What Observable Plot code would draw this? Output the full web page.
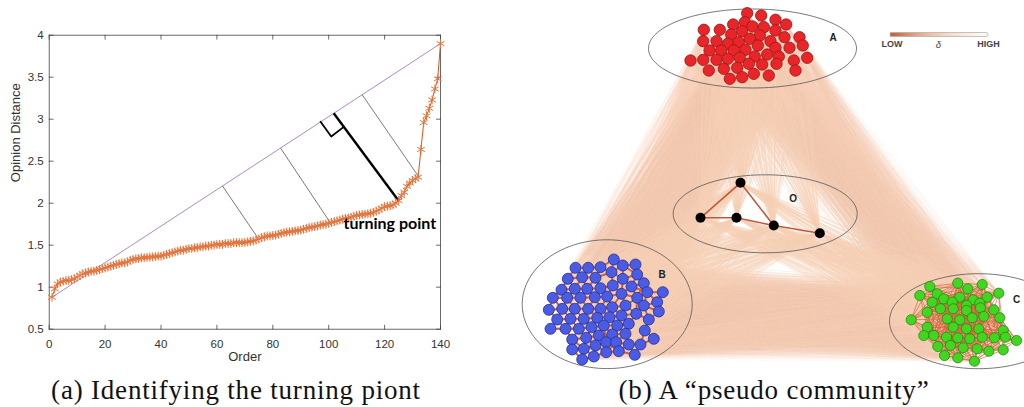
<!DOCTYPE html>
<html><head><meta charset="utf-8">
<script src="https://cdn.jsdelivr.net/npm/d3@7"></script>
<script src="https://cdn.jsdelivr.net/npm/@observablehq/plot@0.6"></script>
<style>
html,body{margin:0;padding:0;background:#fff;width:1024px;height:407px;overflow:hidden;}
#left{position:absolute;left:0;top:0;}
#right{position:absolute;left:512px;top:0;}
.cap{position:absolute;top:377px;font-family:"Liberation Serif",serif;font-size:27px;line-height:27px;letter-spacing:0.8px;white-space:nowrap;color:#111;transform:translateX(-50%);}
</style></head><body>
<div id="left"></div><div id="right"></div>
<div class="cap" style="left:236px">(a) Identifying the turning piont</div>
<div class="cap" style="left:774px">(b) A “pseudo community”</div>
<script>
// ---------- Panel (a) data ----------
const order = d3.range(1, 141);
const opinionDistance = [
0.88,0.98,1.04,1.06,1.07,1.08,1.08,1.09,1.10,1.12,
1.14,1.16,1.17,1.18,1.19,1.19,1.20,1.21,1.22,1.23,
1.24,1.25,1.26,1.27,1.28,1.29,1.29,1.30,1.32,1.33,
1.34,1.34,1.35,1.35,1.355,1.36,1.36,1.365,1.37,1.37,
1.38,1.39,1.40,1.41,1.42,1.43,1.44,1.44,1.45,1.46,
1.46,1.47,1.47,1.48,1.48,1.49,1.49,1.50,1.50,1.51,
1.51,1.51,1.52,1.52,1.52,1.53,1.53,1.53,1.53,1.535,
1.54,1.545,1.55,1.56,1.575,1.59,1.60,1.61,1.61,1.615,
1.62,1.63,1.64,1.65,1.655,1.66,1.665,1.67,1.675,1.68,
1.69,1.70,1.71,1.715,1.72,1.73,1.74,1.745,1.75,1.76,
1.77,1.78,1.79,1.80,1.81,1.82,1.825,1.83,1.845,1.855,
1.86,1.865,1.87,1.875,1.88,1.89,1.905,1.92,1.94,1.96,
1.965,1.97,1.98,2.00,2.03,2.09,2.13,2.20,2.24,2.27,
2.29,2.31,2.64,2.96,3.04,3.13,3.23,3.36,3.48,3.90
];
const xTicks = [0,20,40,60,80,100,120,140];
const yTicks = [0.5,1,1.5,2,2.5,3,3.5,4];
const xDomain = [0,140];
const yDomain = [0.5,4];
const chord = [{x:1,y:0.88},{x:140,y:3.90}];
const perpThin = [
  {x1:62,y1:2.205,x2:75,y2:1.57},
  {x1:82.8,y1:2.655,x2:100.6,y2:1.766},
  {x1:112,y1:3.29,x2:132.2,y2:2.315}
];
const perpThick = [{x1:101.8,y1:3.07,x2:125,y2:2.03}];
const rightAngle = [{x:97.1,y:2.97},{x:100.9,y:2.794},{x:105.4,y:2.909}];
const turningLabel = [{x:105.3,y:1.757,text:"turning point"}];

// ---------- Panel (b) data (positions, panel pixel units) ----------
const nodesA = [
[234.7,12.7],[248.7,15],[263,19.3],[273.7,24],[220.7,24],[232.3,21.7],[240,26],[251.3,26.7],[263,30],
[191.3,29.3],[207.3,29.3],[218.7,34],[229.7,30.7],[247.3,35],[272,36.7],[287,36.7],
[190.7,40.7],[204,40.7],[215.3,43.3],[226.3,41.7],[237.3,38.3],[245.3,45],[258,40.7],[263,47.3],[277,47.3],[290.3,45],
[197,50],[208.7,50],[221.3,50],[233,49.3],[242.3,56],[254.7,54],[266.3,56],[281.3,60],[294.7,57.3],
[178,60],[190.7,59.3],[204,59.3],[215.3,58.3],[227.3,57.3],[236.3,63.3],[249.7,64],[264,63.3],
[196.3,70],[211.3,68.3],[224.7,67.3],[241.3,73.3],[256.3,75],[283,70],[217.3,78.3],[229.7,76.7]
];
const nodesB = [
[101.3,259],[110.3,265],[123,264],
[63,267.3],[75.7,267.3],[88,266.7],[99,271.7],
[55.3,278.3],[69.7,276.7],[83,277.3],[110.3,278.3],[124.7,274],
[49,289.3],[62.3,288.3],[74.7,288.3],[88,287.7],[100.3,285],[119,286],[131.3,282.7],
[40.3,297.3],[54.7,297.3],[68,297.3],[82.3,296.7],[94.7,296],[109,293.3],[124.7,297.3],[134.7,291.7],[150.3,291.7],
[36.3,309.3],[49.7,308.3],[62.3,308.3],[75.7,308.3],[88,308.3],[99.7,306.7],[113,305],[131.3,305],[144.7,301.7],
[44.7,319],[58,318.3],[71.3,318.3],[84.7,317.3],[97,316.7],[109,315],[123.7,313.3],[146.3,311],
[38,328.3],[53,328.3],[66.3,328.3],[79,326.7],[91.3,325],[104.7,325],[116.3,323.3],[136.3,319],
[59.7,339],[73.7,337.3],[86.3,335],[99.7,334],[113,333.3],[132.3,330],[141.3,338.3],
[59.7,349],[71.3,348.3],[83,345],[93.7,341.7],[103.7,341.7],[116.3,344],[128,344],
[69.7,359],[81.3,356],[93.7,351.7],[106.3,350.7],[122.3,354.3]
];
const nodesC = [
[417.3,286],[445.3,282.7],[455.3,288.3],[469.7,284],
[407.3,295],[424.7,293.3],[431.3,298.3],[447.3,296.7],[460.7,299.3],[474.7,296.7],[486.3,292.7],
[419.7,301.7],[439.7,301.7],[454,305],[467.3,302.7],
[414.7,311.7],[428,308.3],[440.7,308.3],[454,310],[468,307.3],[481.3,309.3],
[398.7,319.3],[434.7,318.3],[447.3,319.3],[459.7,317.3],[471.3,316],[487.3,317.3],
[414.7,326.7],[440.7,326.7],[454,328.3],[466.3,328.3],[490.7,330],
[411.3,335],[421.3,335],[434,336.7],[445.3,337.3],[457.3,338.3],[469.7,336.7],[482,337.3],[493,336.7],[504,340],
[425.3,346],[438,345],[450.7,347.3],[464.7,348.3],[476.3,350.7],[490.7,349.3],
[432,355],[445.3,357.3],[462,360.7]
];
const nodesO = [[228,182.3],[188,217.3],[224,217.3],[261.3,225],[307.3,232.7]];
const edgesO = [[1,0],[0,3],[1,2],[2,3],[3,4]];
const ellipses = [
  {name:"A",cx:240,cy:48,rx:104,ry:39.5},
  {name:"O",cx:252.7,cy:213.3,rx:92,ry:39},
  {name:"B",cx:94.7,cy:303.7,rx:85,ry:64.4},
  {name:"C",cx:466,cy:320.7,rx:89,ry:47.5}
];
const clusterLabels = [
  {text:"A",x:320.7,y:37.3},{text:"B",x:149.7,y:274.5},
  {text:"C",x:504,y:299.3},{text:"O",x:280.7,y:198.3}
];
const legendStops = ["#c0603f","#eeb898","#fbe3d4","#fffaf6"];
const legendBox = {x1:378,x2:476,y1:32.5,y2:36.5};
const legendLabels = [
  {text:"LOW",x:379.5,y:44,anchor:"start",style:"normal"},
  {text:"δ",x:426,y:44,anchor:"middle",style:"italic"},
  {text:"HIGH",x:476,y:44,anchor:"end",style:"normal"}
];
const colors = {
  A:{fill:"#e8262a",stroke:"#9c1414"},
  B:{fill:"#4a5be6",stroke:"#26308c"},
  C:{fill:"#3fd81e",stroke:"#2a8416"},
  O:{fill:"#000",stroke:"none"}
};

// ---------- Panel (a) ----------
const curve = order.map((o,i)=>({order:o, dist:opinionDistance[i]}));
const tickShape = {draw(ctx,l){ctx.moveTo(0,0);ctx.lineTo(0,-l);}};
const tickStyle = {length:4, anchor:"start", shape:tickShape, stroke:"#444", strokeWidth:0.8};
const left = Plot.plot({
  width:470, height:370, marginLeft:48.7, marginRight:30, marginTop:34.7, marginBottom:41.3,
  x:{domain:xDomain}, y:{domain:yDomain},
  style:{fontFamily:"'Liberation Sans', Arial, sans-serif", background:"transparent", color:"#333"},
  marks:[
    Plot.frame({stroke:"#444", strokeWidth:0.8}),
    Plot.vector(xTicks,{x:d=>d, y:yDomain[0], rotate:0, ...tickStyle}),
    Plot.vector(xTicks,{x:d=>d, y:yDomain[1], rotate:180, ...tickStyle}),
    Plot.vector(yTicks,{y:d=>d, x:xDomain[0], rotate:90, ...tickStyle}),
    Plot.vector(yTicks,{y:d=>d, x:xDomain[1], rotate:-90, ...tickStyle}),
    Plot.axisX(xTicks,{tickSize:0, tickPadding:10.5, fontSize:11.5, fill:"#333", label:null, tickFormat:d=>String(d)}),
    Plot.axisY(yTicks,{tickSize:0, tickPadding:5.5, fontSize:11.5, fill:"#333", label:null, tickFormat:d=>String(d)}),
    Plot.text(["Order"],{text:d=>d, frameAnchor:"bottom", dy:31.3, fontSize:13, fill:"#333"}),
    Plot.text(["Opinion Distance"],{text:d=>d, frameAnchor:"left", dx:-33, rotate:-90, fontSize:13, fill:"#333"}),
    Plot.line(chord,{x:"x", y:"y", stroke:"#9a6cb0", strokeWidth:0.8}),
    Plot.link(perpThin,{x1:"x1",y1:"y1",x2:"x2",y2:"y2", stroke:"#222", strokeWidth:0.6}),
    Plot.link(perpThick,{x1:"x1",y1:"y1",x2:"x2",y2:"y2", stroke:"#000", strokeWidth:2.4}),
    Plot.line(rightAngle,{x:"x", y:"y", stroke:"#000", strokeWidth:1.8}),
    Plot.line(curve,{x:"order", y:"dist", stroke:"#d95319", strokeWidth:1}),
    Plot.dot(curve,{x:"order", y:"dist", symbol:"asterisk", r:4.2, stroke:"#e6733a", strokeWidth:1}),
    Plot.text(turningLabel,{x:"x", y:"y", text:"text", textAnchor:"start", fontSize:16, fontWeight:"bold", fontFamily:"Lato, 'Open Sans', sans-serif", fill:"#000"})
  ]
});
document.getElementById("left").appendChild(left);

// ---------- Panel (b) ----------
const groups = {A:nodesA, B:nodesB, C:nodesC, O:nodesO};
const names = ["A","B","C"];
const crossEdges = [];
for (let g=0; g<names.length; g++) for (let h=g+1; h<names.length; h++)
  for (const p of groups[names[g]]) for (const q of groups[names[h]])
    crossEdges.push({x1:p[0],y1:p[1],x2:q[0],y2:q[1]});
const oEdges = [];
for (const p of nodesO) for (const n of names) for (const q of groups[n])
  oEdges.push({x1:p[0],y1:p[1],x2:q[0],y2:q[1]});
function nearEdges(nodes, maxD){
  const out=[];
  for (let i=0;i<nodes.length;i++) for (let j=i+1;j<nodes.length;j++){
    const d=Math.hypot(nodes[i][0]-nodes[j][0], nodes[i][1]-nodes[j][1]);
    if (d<maxD) out.push({x1:nodes[i][0],y1:nodes[i][1],x2:nodes[j][0],y2:nodes[j][1]});
  }
  return out;
}
const innerA = nearEdges(nodesA, 13);
const innerB = nearEdges(nodesB, 17);
const innerC = nearEdges(nodesC, 40);
const innerO = edgesO.map(([a,b])=>({x1:nodesO[a][0],y1:nodesO[a][1],x2:nodesO[b][0],y2:nodesO[b][1]}));
const ellipsePts = ellipses.flatMap(e => d3.range(0,120).map(k => {
  const t = k/120*2*Math.PI;
  return {name:e.name, x:e.cx+e.rx*Math.cos(t), y:e.cy+e.ry*Math.sin(t)};
}));
const ramp = d3.interpolateRgbBasis(legendStops);
const nCells = 49;
const legendCells = d3.range(nCells).map(i => ({
  x1: legendBox.x1 + (legendBox.x2-legendBox.x1)*i/nCells,
  x2: legendBox.x1 + (legendBox.x2-legendBox.x1)*(i+1)/nCells,
  fill: ramp(i/(nCells-1))
}));
const nodeMark = (name, r) => Plot.dot(groups[name].map(p=>({x:p[0],y:p[1]})),
  {x:"x", y:"y", r, fill:colors[name].fill, stroke:colors[name].stroke, strokeWidth:0.8});
const L = {x1:"x1",y1:"y1",x2:"x2",y2:"y2"};
const right = Plot.plot({
  width:512, height:372, margin:0,
  x:{domain:[0,512], axis:null}, y:{domain:[372,0], axis:null},
  style:{fontFamily:"'Liberation Sans', Arial, sans-serif", background:"transparent"},
  marks:[
    Plot.link(crossEdges,{...L, stroke:"#f6d0b5", strokeOpacity:0.16, strokeWidth:0.8}),
    Plot.link(oEdges,{...L, stroke:"#f6d0b5", strokeOpacity:0.5, strokeWidth:0.9}),
    Plot.link(innerA,{...L, stroke:"#e07a58", strokeOpacity:0.6, strokeWidth:0.8}),
    Plot.link(innerB,{...L, stroke:"#d0603a", strokeWidth:2}),
    Plot.link(innerC,{...L, stroke:"#d6653f", strokeOpacity:0.75, strokeWidth:0.9}),
    Plot.link(innerO,{...L, stroke:"#c2583a", strokeWidth:1.6}),
    Plot.line(ellipsePts,{x:"x", y:"y", z:"name", curve:"linear-closed", stroke:"#555", strokeWidth:0.8}),
    nodeMark("A",5.7), nodeMark("B",5.5), nodeMark("C",5.1), nodeMark("O",5),
    Plot.text(clusterLabels,{x:"x", y:"y", text:"text", fontSize:10, fontWeight:"bold", fill:"#222"}),
    Plot.rect(legendCells,{x1:"x1", x2:"x2", y1:legendBox.y1, y2:legendBox.y2, fill:"fill"}),
    Plot.rect([legendBox],{x1:"x1", x2:"x2", y1:"y1", y2:"y2", fill:"none", stroke:"#aaa", strokeWidth:0.7, rx:2}),
    Plot.text(legendLabels.filter(d=>d.style==="normal"),{x:"x", y:"y", text:"text", textAnchor:"anchor", fontSize:9, fontWeight:"bold", fill:"#444"}),
    Plot.text(legendLabels.filter(d=>d.style==="italic"),{x:"x", y:"y", text:"text", textAnchor:"anchor", fontSize:9.5, fontStyle:"italic", fill:"#444"})
  ]
});
document.getElementById("right").appendChild(right);
</script></body></html>
